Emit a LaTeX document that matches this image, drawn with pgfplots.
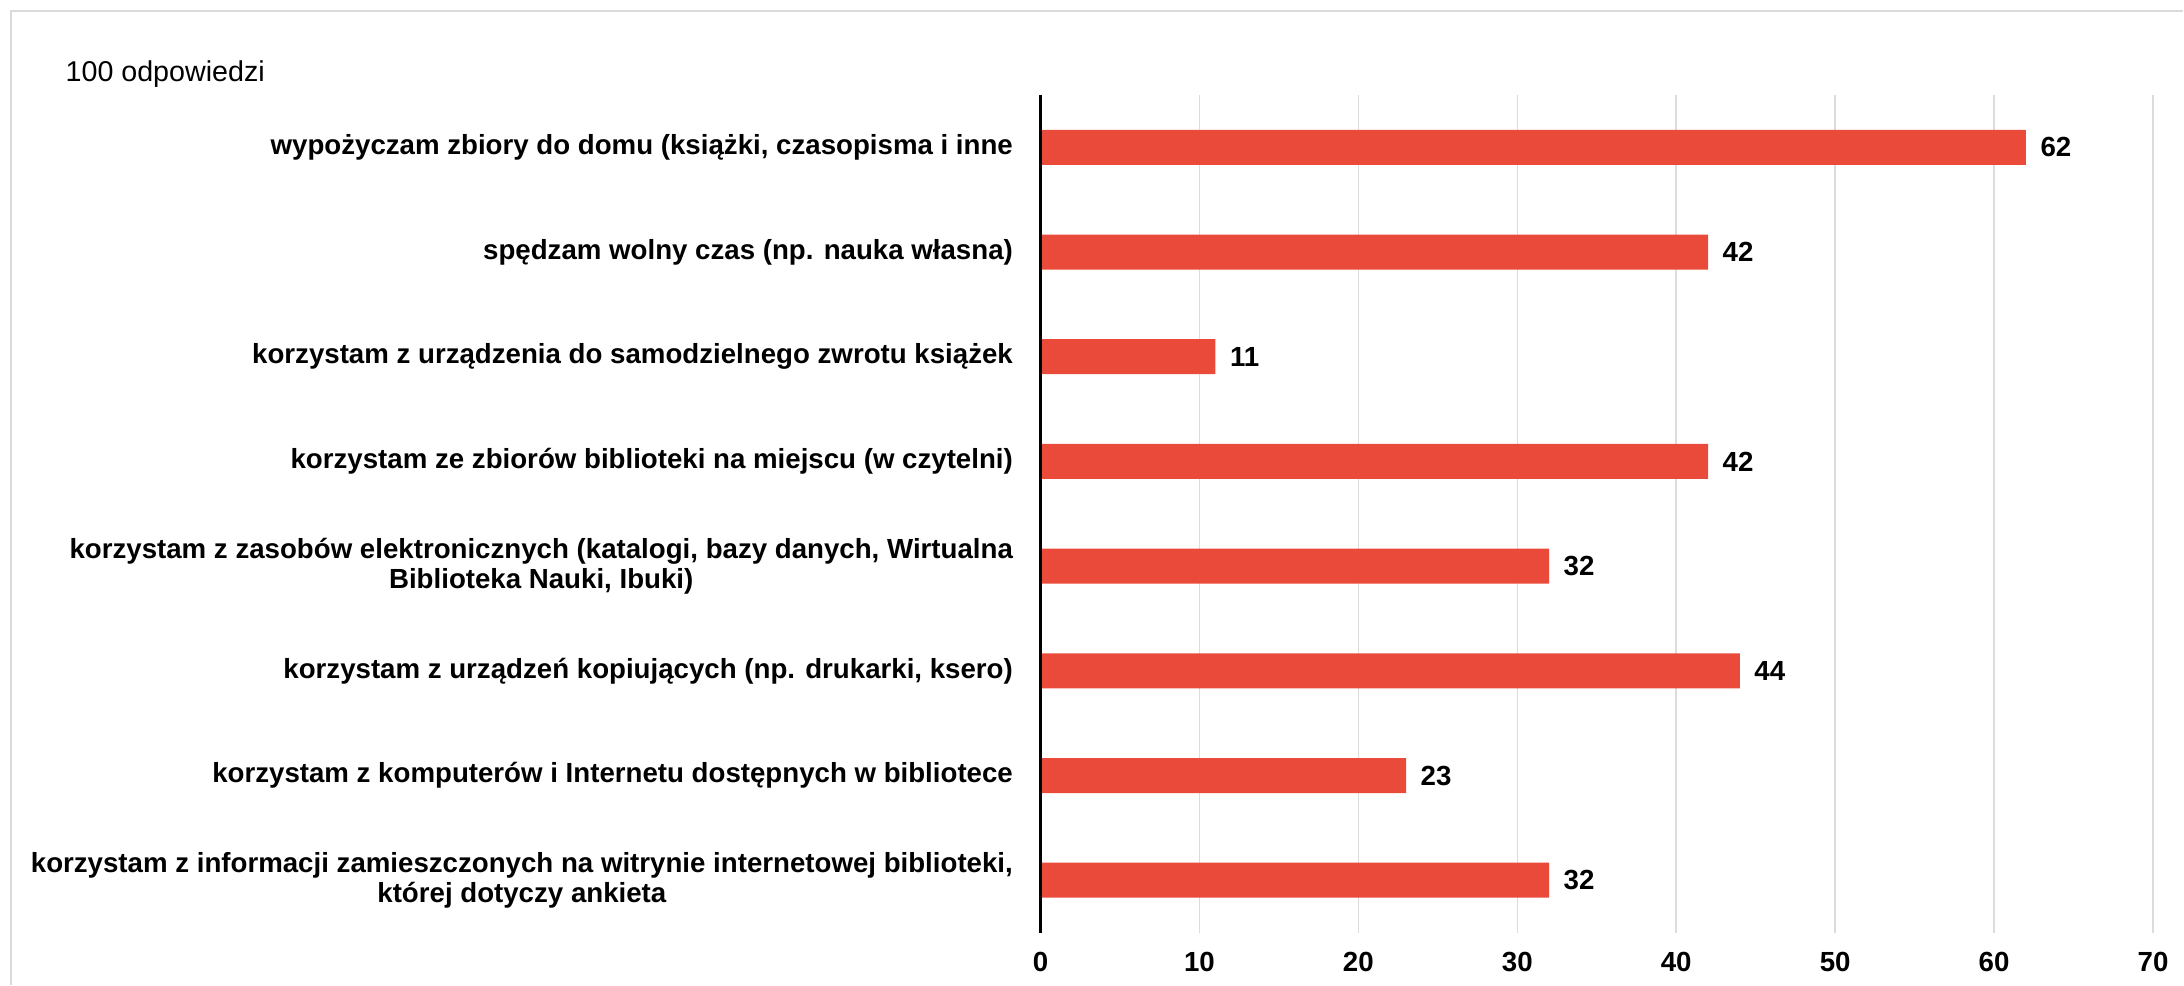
\documentclass[border=0pt]{standalone}
\usepackage{fontspec}
\setmainfont{Liberation Sans}
\usepackage{pgfplots}
\pgfplotsset{compat=1.18}

\definecolor{barred}{HTML}{E94A39}
\definecolor{gridgray}{HTML}{DCDCDC}
\definecolor{framegray}{HTML}{DADADA}

\pgfplotstableread{
idx val
0 62
1 42
2 11
3 42
4 32
5 44
6 23
7 32
}\uses

\begin{document}
\begin{tikzpicture}
% page size, same proportions as the original
\path (0,0) rectangle (655.2pt,295.5pt);
% light frame (top and left edges only are visible)
\draw[framegray, line width=0.6pt] (3.3pt,0) -- (3.3pt,292.2pt) -- (655.2pt,292.2pt);
\node[anchor=west, inner sep=0pt, font=\fontsize{8.6}{10}\selectfont] at (19.5pt,273.3pt) {100 odpowiedzi};

\begin{axis}[
    at={(312.3pt,15.6pt)}, anchor=south west,
    scale only axis,
    width=333.9pt, height=251.4pt,
    xbar, bar width=10.5pt,
    xmin=0, xmax=70,
    ymin=-0.5, ymax=7.5,
    y dir=reverse,
    xtick={0,10,...,70},
    ytick={0,...,7},
    yticklabels={
        {wypożyczam zbiory do domu (książki, czasopisma i inne},
        {spędzam wolny czas (np. nauka własna)},
        {korzystam z urządzenia do samodzielnego zwrotu książek},
        {korzystam ze zbiorów biblioteki na miejscu (w czytelni)},
        {korzystam z zasobów elektronicznych (katalogi, bazy danych, Wirtualna\\Biblioteka Nauki, Ibuki)},
        {korzystam z urządzeń kopiujących (np. drukarki, ksero)},
        {korzystam z komputerów i Internetu dostępnych w bibliotece},
        {korzystam z informacji zamieszczonych na witrynie internetowej biblioteki,\\której dotyczy ankieta},
    },
    axis line style={draw=none},
    major tick length=0pt,
    xmajorgrids,
    grid style={gridgray, line width=0.45pt},
    /pgf/number format/assume math mode=true,
    xticklabel style={font=\fontsize{8.3}{9.2}\selectfont\bfseries, anchor=center, yshift=-8.7pt},
    yticklabel style={font=\fontsize{8.3}{9.2}\selectfont\bfseries, align=center, anchor=east, inner sep=0pt, xshift=-8.1pt},
    nodes near coords,
    every node near coord/.append style={font=\fontsize{8.3}{9.2}\selectfont\bfseries, anchor=west, inner sep=0pt, xshift=4.2pt, black},
    clip=false,
]
\addplot[draw=none, fill=barred] table[x=val, y=idx] {\uses};
\draw[black, line width=1.1pt] (axis cs:0,-0.5) -- (axis cs:0,7.5);
\end{axis}
\end{tikzpicture}
\end{document}
